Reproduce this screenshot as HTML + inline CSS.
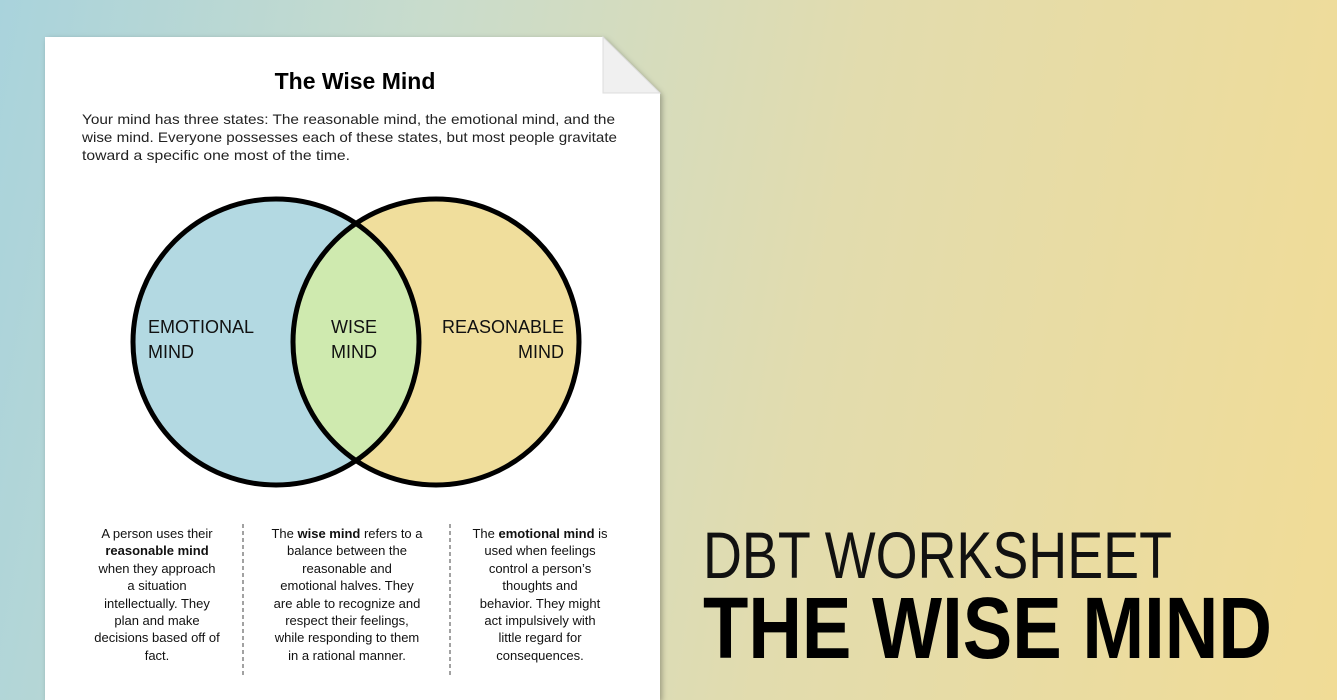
<!DOCTYPE html>
<html><head><meta charset="utf-8"><style>
html,body{margin:0;padding:0;width:1337px;height:700px;overflow:hidden}
body{background:linear-gradient(100deg,#a9d3dc 0%,#c9dccc 30%,#e2dcae 60%,#f1dc96 100%);font-family:"Liberation Sans",sans-serif}
</style></head><body>
<svg width="1337" height="700" viewBox="0 0 1337 700" style="position:absolute;left:0;top:0">
<defs><filter id="sh" x="-5%" y="-5%" width="110%" height="110%"><feDropShadow dx="2" dy="2" stdDeviation="3" flood-opacity="0.3"/></filter></defs>
<path d="M45 37 H603 L660 93 V700 H45 Z" fill="#fff" filter="url(#sh)"/>
<path d="M603 37 L603 93 L660 93 Z" fill="#f0f0f0" stroke="#ddd" stroke-width="1"/>
<text x="355" y="89" text-anchor="middle" font-size="23" font-weight="bold" fill="#000">The Wise Mind</text>
<g font-size="14" fill="#222">
<text x="82" y="124" textLength="533" lengthAdjust="spacingAndGlyphs">Your mind has three states: The reasonable mind, the emotional mind, and the</text>
<text x="82" y="142" textLength="535" lengthAdjust="spacingAndGlyphs">wise mind. Everyone possesses each of these states, but most people gravitate</text>
<text x="82" y="160" textLength="268" lengthAdjust="spacingAndGlyphs">toward a specific one most of the time.</text>
</g>
<circle cx="276" cy="342" r="143" fill="#b3d9e2"/>
<circle cx="436" cy="342" r="143" fill="#f0de9c"/>
<clipPath id="c"><circle cx="276" cy="342" r="143"/></clipPath>
<circle cx="436" cy="342" r="143" fill="#cfeaaf" clip-path="url(#c)"/>
<circle cx="276" cy="342" r="143" fill="none" stroke="#000" stroke-width="5"/>
<circle cx="436" cy="342" r="143" fill="none" stroke="#000" stroke-width="5"/>
<g font-size="18" fill="#111">
<text x="148" y="333">EMOTIONAL</text><text x="148" y="358">MIND</text>
<text x="354" y="333" text-anchor="middle">WISE</text><text x="354" y="358" text-anchor="middle">MIND</text>
<text x="564" y="333" text-anchor="end">REASONABLE</text><text x="564" y="358" text-anchor="end">MIND</text>
</g>
<g stroke="#444" stroke-width="1" stroke-dasharray="4,3"><line x1="243" y1="524" x2="243" y2="678"/><line x1="450" y1="524" x2="450" y2="678"/></g>
<g font-size="13" fill="#111" text-anchor="middle">
<text x="157" y="538">A person uses their</text>
<text x="157" y="555" font-weight="bold">reasonable mind</text>
<text x="157" y="573">when they approach</text>
<text x="157" y="590">a situation</text>
<text x="157" y="608">intellectually. They</text>
<text x="157" y="625">plan and make</text>
<text x="157" y="642">decisions based off of</text>
<text x="157" y="660">fact.</text>
<text x="347" y="538">The <tspan font-weight="bold">wise mind</tspan> refers to a</text>
<text x="347" y="555">balance between the</text>
<text x="347" y="573">reasonable and</text>
<text x="347" y="590">emotional halves. They</text>
<text x="347" y="608">are able to recognize and</text>
<text x="347" y="625">respect their feelings,</text>
<text x="347" y="642">while responding to them</text>
<text x="347" y="660">in a rational manner.</text>
<text x="540" y="538">The <tspan font-weight="bold">emotional mind</tspan> is</text>
<text x="540" y="555">used when feelings</text>
<text x="540" y="573">control a person’s</text>
<text x="540" y="590">thoughts and</text>
<text x="540" y="608">behavior. They might</text>
<text x="540" y="625">act impulsively with</text>
<text x="540" y="642">little regard for</text>
<text x="540" y="660">consequences.</text>
</g>
<text x="703" y="578" font-size="66" fill="#111" textLength="469" lengthAdjust="spacingAndGlyphs" style="font-family:'Liberation Sans Narrow','Liberation Sans',sans-serif">DBT WORKSHEET</text>
<text x="703" y="658" font-size="87" font-weight="bold" fill="#000" textLength="569" lengthAdjust="spacingAndGlyphs" style="font-family:'Liberation Sans Narrow','Liberation Sans',sans-serif">THE WISE MIND</text>
</svg>
</body></html>
